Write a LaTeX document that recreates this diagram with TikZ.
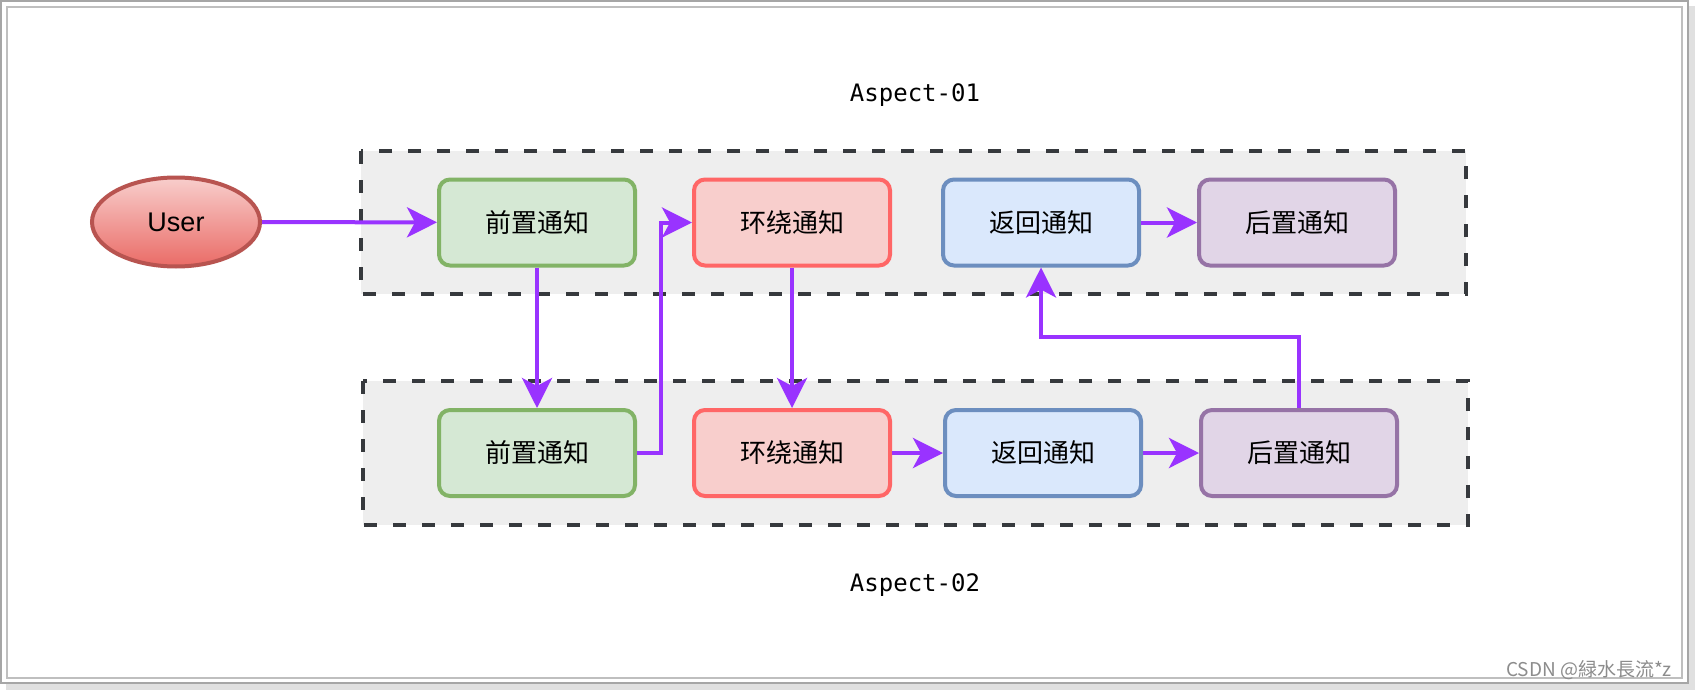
\documentclass[tikz,border=0pt]{standalone}
\usepackage{fontspec}
\setmainfont{Liberation Sans}
\setmonofont{DejaVu Sans Mono}
\newfontfamily\cjk{Noto Sans CJK SC}
\usepackage{tikz}
\usetikzlibrary{shapes.geometric,arrows.meta}
\definecolor{beforefill}{HTML}{D5E8D4}
\definecolor{beforeline}{HTML}{82B366}
\definecolor{aroundfill}{HTML}{F8CECC}
\definecolor{aroundline}{HTML}{FF6666}
\definecolor{returnfill}{HTML}{DAE8FC}
\definecolor{returnline}{HTML}{6C8EBF}
\definecolor{afterfill}{HTML}{E1D5E7}
\definecolor{afterline}{HTML}{9673A6}
\definecolor{usertop}{HTML}{F8CECC}
\definecolor{userbottom}{HTML}{EA6B66}
\definecolor{userline}{HTML}{B85450}
\definecolor{aspectfill}{HTML}{EEEEEE}
\definecolor{aspectline}{HTML}{36393D}
\definecolor{flowpurple}{HTML}{9933FF}

\tikzset{
  advice/.style={rounded corners=5.5pt, line width=2pt, inner sep=0pt,
    minimum width=98pt, minimum height=43pt,
    font=\cjk\fontsize{13}{15}\selectfont},
  beforebox/.style={advice, draw=beforeline, fill=beforefill},
  aroundbox/.style={advice, draw=aroundline, fill=aroundfill},
  returnbox/.style={advice, draw=returnline, fill=returnfill},
  afterbox/.style={advice, draw=afterline, fill=afterfill},
  aspectbox/.style={draw=aspectline, fill=aspectfill, line width=1.75pt,
    dash pattern=on 6.5pt off 8pt},
  aspectlabel/.style={font=\ttfamily\fontsize{12}{14}\selectfont},
  flow/.style={draw=flowpurple, line width=2pt,
    -{Stealth[length=15pt,width=15pt,inset=4pt]}},
}

\begin{document}
\begin{tikzpicture}[x=0.5pt,y=-0.5pt]
% picture is laid out in pixels of the 1695x690 screenshot, y downwards
\useasboundingbox (0,0) rectangle (1695,690);

% page frame with its shadow
\fill[black!12] (6,6) rectangle (1695,690);
\filldraw[fill=white, draw=black!35, line width=1pt] (1,1) rectangle (1688,683);
\draw[black!25, line width=1pt] (7,7) rectangle (1682,678);

% the two aspects
\draw[aspectbox] (361,151) rectangle (1466,294);
\draw[aspectbox] (363,381) rectangle (1468,525);
\node[aspectlabel] (labelA) at (915,95) {Aspect-01};
\node[aspectlabel] (labelB) at (915,585) {Aspect-02};

% caller
\node[ellipse, draw=userline, line width=2pt, top color=usertop,
  bottom color=userbottom, minimum width=84pt, minimum height=44.5pt,
  font=\fontsize{13.5}{15}\selectfont] (user) at (176,222) {User};

% Aspect-01 advices
\node[beforebox] (beforeA) at (537,222.5) {前置通知};
\node[aroundbox] (aroundA) at (792,222.5) {环绕通知};
\node[returnbox] (returnA) at (1041,222.5) {返回通知};
\node[afterbox] (afterA) at (1297,222.5) {后置通知};

% Aspect-02 advices
\node[beforebox] (beforeB) at (537,453) {前置通知};
\node[aroundbox] (aroundB) at (792,453) {环绕通知};
\node[returnbox] (returnB) at (1043,453) {返回通知};
\node[afterbox] (afterB) at (1299,453) {后置通知};

% call order
\draw[flow] (user) -- (beforeA);
\draw[flow] (beforeA) -- (beforeB);
\draw[flow] (beforeB.east) -- ++(24,0) |- (aroundA.west);
\draw[flow] (aroundA) -- (aroundB);
\draw[flow] (aroundB) -- (returnB);
\draw[flow] (returnB) -- (afterB);
\draw[flow] (afterB.north) -- ++(0,-71) -| (returnA.south);
\draw[flow] (returnA) -- (afterA);

% watermark
\node[anchor=base east, text=black!45, font=\cjk\fontsize{9.5}{11}\selectfont]
  (mark) at (1679,676) {CSDN @緑水長流*z};
\end{tikzpicture}
\end{document}
